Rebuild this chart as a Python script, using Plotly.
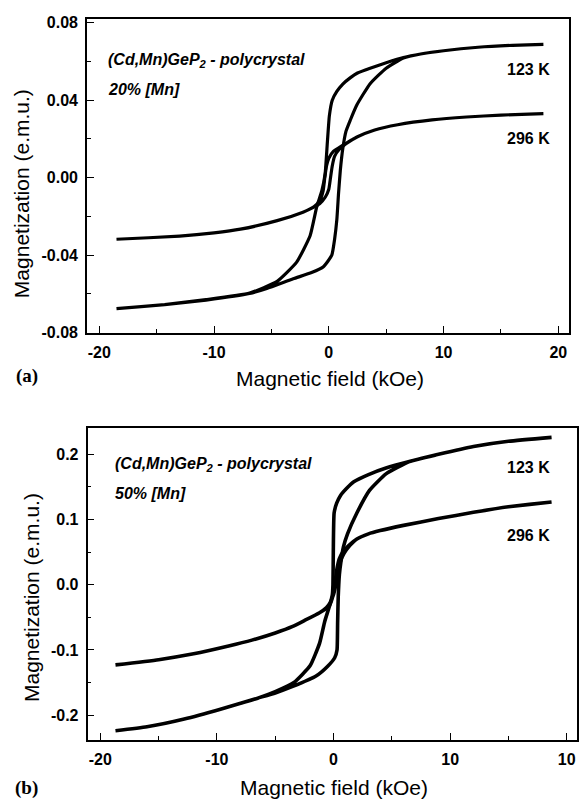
import plotly.graph_objects as go

W, H = 579, 806

# ---------------- data: panel (a) 20% Mn ----------------
a123_desc_H = [18.7, 16, 13, 10, 8, 6.5, 5, 3.6, 2.5, 1.86, 1.2, 0.7, 0.3, 0.05, -0.12, -0.32, -0.6, -1.05,
               -1.63, -2.8, -4.5, -6.9, -10.7, -14.3, -18.5]
a123_desc_M = [0.0688, 0.0683, 0.0673, 0.0655, 0.0638, 0.0620, 0.0593, 0.0565, 0.0540, 0.0515, 0.0482,
               0.0445, 0.0400, 0.0320, 0.0187, 0.0020, -0.0066, -0.0150, -0.0300, -0.0436, -0.0535,
               -0.0596, -0.0630, -0.0655, -0.0676]
a123_asc_H = [-18.5, -14.3, -10.7, -6.9, -5.4, -3.1, -1.5, -0.47, 0.26, 0.5, 0.7, 0.85, 1.0, 1.22, 1.5,
              1.86, 2.44, 3.6, 5.0, 6.5, 8, 10, 13, 16, 18.7]
a123_asc_M = [-0.0676, -0.0656, -0.0632, -0.0598, -0.0572, -0.0522, -0.0490, -0.0460, -0.0400, -0.0320,
              -0.0217, -0.0080, 0.0035, 0.0150, 0.0240, 0.0295, 0.0375, 0.0485, 0.0565, 0.0617,
              0.0638, 0.0655, 0.0673, 0.0683, 0.0688]

a296_desc_H = [18.7, 15, 12, 9, 6, 4, 2.5, 1.5, 0.9, 0.5, 0.3, 0.15, 0.0, -0.3, -0.8, -1.3, -2.25, -4.5,
               -7.7, -10, -13, -18.5]
a296_desc_M = [0.0330, 0.0323, 0.0313, 0.0298, 0.0273, 0.0246, 0.0211, 0.0175, 0.0145, 0.0110, 0.0060,
               0.0000, -0.0060, -0.0100, -0.0135, -0.0152, -0.0178, -0.0222, -0.0266, -0.0285, -0.0302,
               -0.0318]
a296_asc_H = [-18.5, -13, -10, -7.7, -4.5, -2.25, -1.3, -0.8, -0.5, -0.35, -0.2, 0.0, 0.4, 0.9, 1.5, 2.5,
              4, 6, 9, 12, 15, 18.7]
a296_asc_M = [-0.0318, -0.0302, -0.0285, -0.0266, -0.0222, -0.0178, -0.0150, -0.0120, -0.0070, 0.0000,
              0.0060, 0.0100, 0.0135, 0.0155, 0.0177, 0.0211, 0.0246, 0.0273, 0.0298, 0.0313, 0.0323,
              0.0330]

# ---------------- data: panel (b) 50% Mn ----------------
b123_desc_H = [18.7, 15, 12, 9, 6.5, 4.5, 3.0, 1.74, 1.13, 0.6, 0.27, 0.05, -0.02, -0.05, -0.1, -0.3,
               -0.75, -1.2, -2.0, -3.4, -5.0, -6.5, -9.7, -12.8, -16, -18.7]
b123_desc_M = [0.226, 0.220, 0.212, 0.200, 0.189, 0.179, 0.169, 0.158, 0.148, 0.137, 0.125, 0.110, 0.050,
               0.000, -0.015, -0.030, -0.056, -0.090, -0.124, -0.150, -0.164, -0.174, -0.191, -0.206,
               -0.218, -0.224]
b123_asc_H = [-18.7, -16, -12.8, -9.7, -6.5, -5.0, -3.5, -1.5, -0.5, 0.1, 0.3, 0.35, 0.4, 0.5, 0.63,
              0.85, 1.2, 2.0, 3.1, 4.5, 6.5, 9, 12, 15, 18.7]
b123_asc_M = [-0.224, -0.218, -0.206, -0.191, -0.174, -0.166, -0.156, -0.140, -0.125, -0.112, -0.100,
              -0.060, -0.020, 0.015, 0.035, 0.058, 0.078, 0.110, 0.145, 0.170, 0.189, 0.200,
              0.212, 0.220, 0.226]

b296_desc_H = [18.7, 15, 12, 9, 6, 4, 3, 2, 1.3, 0.8, 0.5, 0.3, 0.1, -0.1, -0.3, -0.6, -1.2, -2.5, -3.5,
               -5, -7, -9, -12, -15, -18.7]
b296_desc_M = [0.127, 0.1195, 0.111, 0.1015, 0.091, 0.083, 0.078, 0.070, 0.060, 0.050, 0.040, 0.025,
               0.000, -0.020, -0.030, -0.036, -0.043, -0.055, -0.064, -0.074, -0.085, -0.094, -0.106,
               -0.115, -0.123]
b296_asc_H = [-18.7, -15, -12, -9, -7, -5, -3.5, -2.5, -1.2, -0.6, -0.3, 0.0, 0.2, 0.4, 0.6, 0.9, 1.3,
              2, 3, 4, 6, 9, 12, 15, 18.7]
b296_asc_M = [-0.123, -0.115, -0.106, -0.094, -0.085, -0.074, -0.064, -0.055, -0.043, -0.035, -0.028,
              -0.015, 0.000, 0.020, 0.036, 0.048, 0.058, 0.070, 0.078, 0.083, 0.091, 0.1015, 0.111,
              0.1195, 0.127]

# ---------------- ticks ----------------
x_tickvals = [-20, -10, 0, 10, 20]
xa_ticktext = ["-20", "-10", "0", "10", "20"]
xb_ticktext = ["-20", "-10", "0", "10", "10"]
ya_tickvals = [-0.08, -0.04, 0.0, 0.04, 0.08]
ya_ticktext = ["-0.08", "-0.04", "0.00", "0.04", "0.08"]
yb_tickvals = [-0.2, -0.1, 0.0, 0.1, 0.2]
yb_ticktext = ["-0.2", "-0.1", "0.0", "0.1", "0.2"]


def px(x):
    return x / W


def py(y):
    return 1 - y / H


fig = go.Figure()
for hx, my in [(a123_desc_H + a123_asc_H, a123_desc_M + a123_asc_M),
               (a296_desc_H + a296_asc_H, a296_desc_M + a296_asc_M)]:
    fig.add_trace(go.Scatter(x=hx, y=my, mode="lines",
                             line=dict(shape="spline", smoothing=0.45, color="black", width=3.2),
                             xaxis="x", yaxis="y", showlegend=False, hoverinfo="skip"))
for hx, my in [(b123_desc_H + b123_asc_H, b123_desc_M + b123_asc_M),
               (b296_desc_H + b296_asc_H, b296_desc_M + b296_asc_M)]:
    fig.add_trace(go.Scatter(x=hx, y=my, mode="lines",
                             line=dict(shape="spline", smoothing=0.45, color="black", width=3.6),
                             xaxis="x2", yaxis="y2", showlegend=False, hoverinfo="skip"))

tickfont = dict(family="Liberation Sans", size=16, color="black", weight="bold")
common = dict(showline=True, linecolor="black", linewidth=1.6, mirror=True, ticks="inside",
              tickcolor="black", tickwidth=1.4, ticklen=7, showgrid=False, zeroline=False,
              tickfont=tickfont, tickmode="array")
minor_x = dict(dtick=5, tick0=0, ticks="inside", ticklen=4, tickcolor="black", tickwidth=1.2)

fig.update_layout(
    width=W, height=H, margin=dict(l=0, r=0, t=0, b=0),
    paper_bgcolor="white", plot_bgcolor="white",
    xaxis=dict(domain=[px(87), px(569)], range=[-21.07, 20.93], anchor="y",
               tickvals=x_tickvals, ticktext=xa_ticktext, minor=minor_x,
               ticklabelstandoff=4, **common),
    yaxis=dict(domain=[py(334), py(15)], range=[-0.0802, 0.082], anchor="x",
               tickvals=ya_tickvals, ticktext=ya_ticktext,
               minor=dict(dtick=0.02, tick0=0, ticks="inside", ticklen=4, tickcolor="black", tickwidth=1.2),
               ticklabelstandoff=4, **common),
    xaxis2=dict(domain=[px(87.5), px(577)], range=[-21.1, 20.88], anchor="y2",
                tickvals=x_tickvals, ticktext=xb_ticktext, minor=minor_x,
                ticklabelstandoff=4, **common),
    yaxis2=dict(domain=[py(747), py(430)], range=[-0.238, 0.241], anchor="x2",
                tickvals=yb_tickvals, ticktext=yb_ticktext,
                minor=dict(dtick=0.05, tick0=0, ticks="inside", ticklen=4, tickcolor="black", tickwidth=1.2),
                ticklabelstandoff=4, **common),
)

ann = []


def text(x, y, s, size, family="Liberation Sans", xanchor="center", angle=0, weight="normal"):
    ann.append(dict(x=px(x), y=py(y), xref="paper", yref="paper", text=s, showarrow=False,
                    xanchor=xanchor, yanchor="middle", textangle=angle,
                    font=dict(family=family, size=size, color="black", weight=weight)))


# panel a texts
text(330, 380, "Magnetic field (kOe)", 21)
text(21, 193, "Magnetization (e.m.u.)", 21, angle=-90)
text(27, 378, "(a)", 19, family="Liberation Serif", weight="bold")
text(106, 57, "<i>(Cd,Mn)GeP<sub>2</sub> - polycrystal</i>", 16, xanchor="left", weight="bold")
text(106, 87, "<i>20% [Mn]</i>", 16, xanchor="left", weight="bold")
text(528, 66, "123 K", 16, weight="bold")
text(528, 137, "296 K", 16, weight="bold")
# panel b texts
text(334, 795, "Magnetic field (kOe)", 21)
text(31, 603, "Magnetization (e.m.u.)", 21, angle=-90)
text(26, 796, "(b)", 19, family="Liberation Serif", weight="bold")
text(113, 467, "<i>(Cd,Mn)GeP<sub>2</sub> - polycrystal</i>", 16, xanchor="left", weight="bold")
text(113, 497, "<i>50% [Mn]</i>", 16, xanchor="left", weight="bold")
text(528, 470, "123 K", 16, weight="bold")
text(528, 540, "296 K", 16, weight="bold")

fig.update_layout(annotations=ann)
fig.write_html("out.html")
